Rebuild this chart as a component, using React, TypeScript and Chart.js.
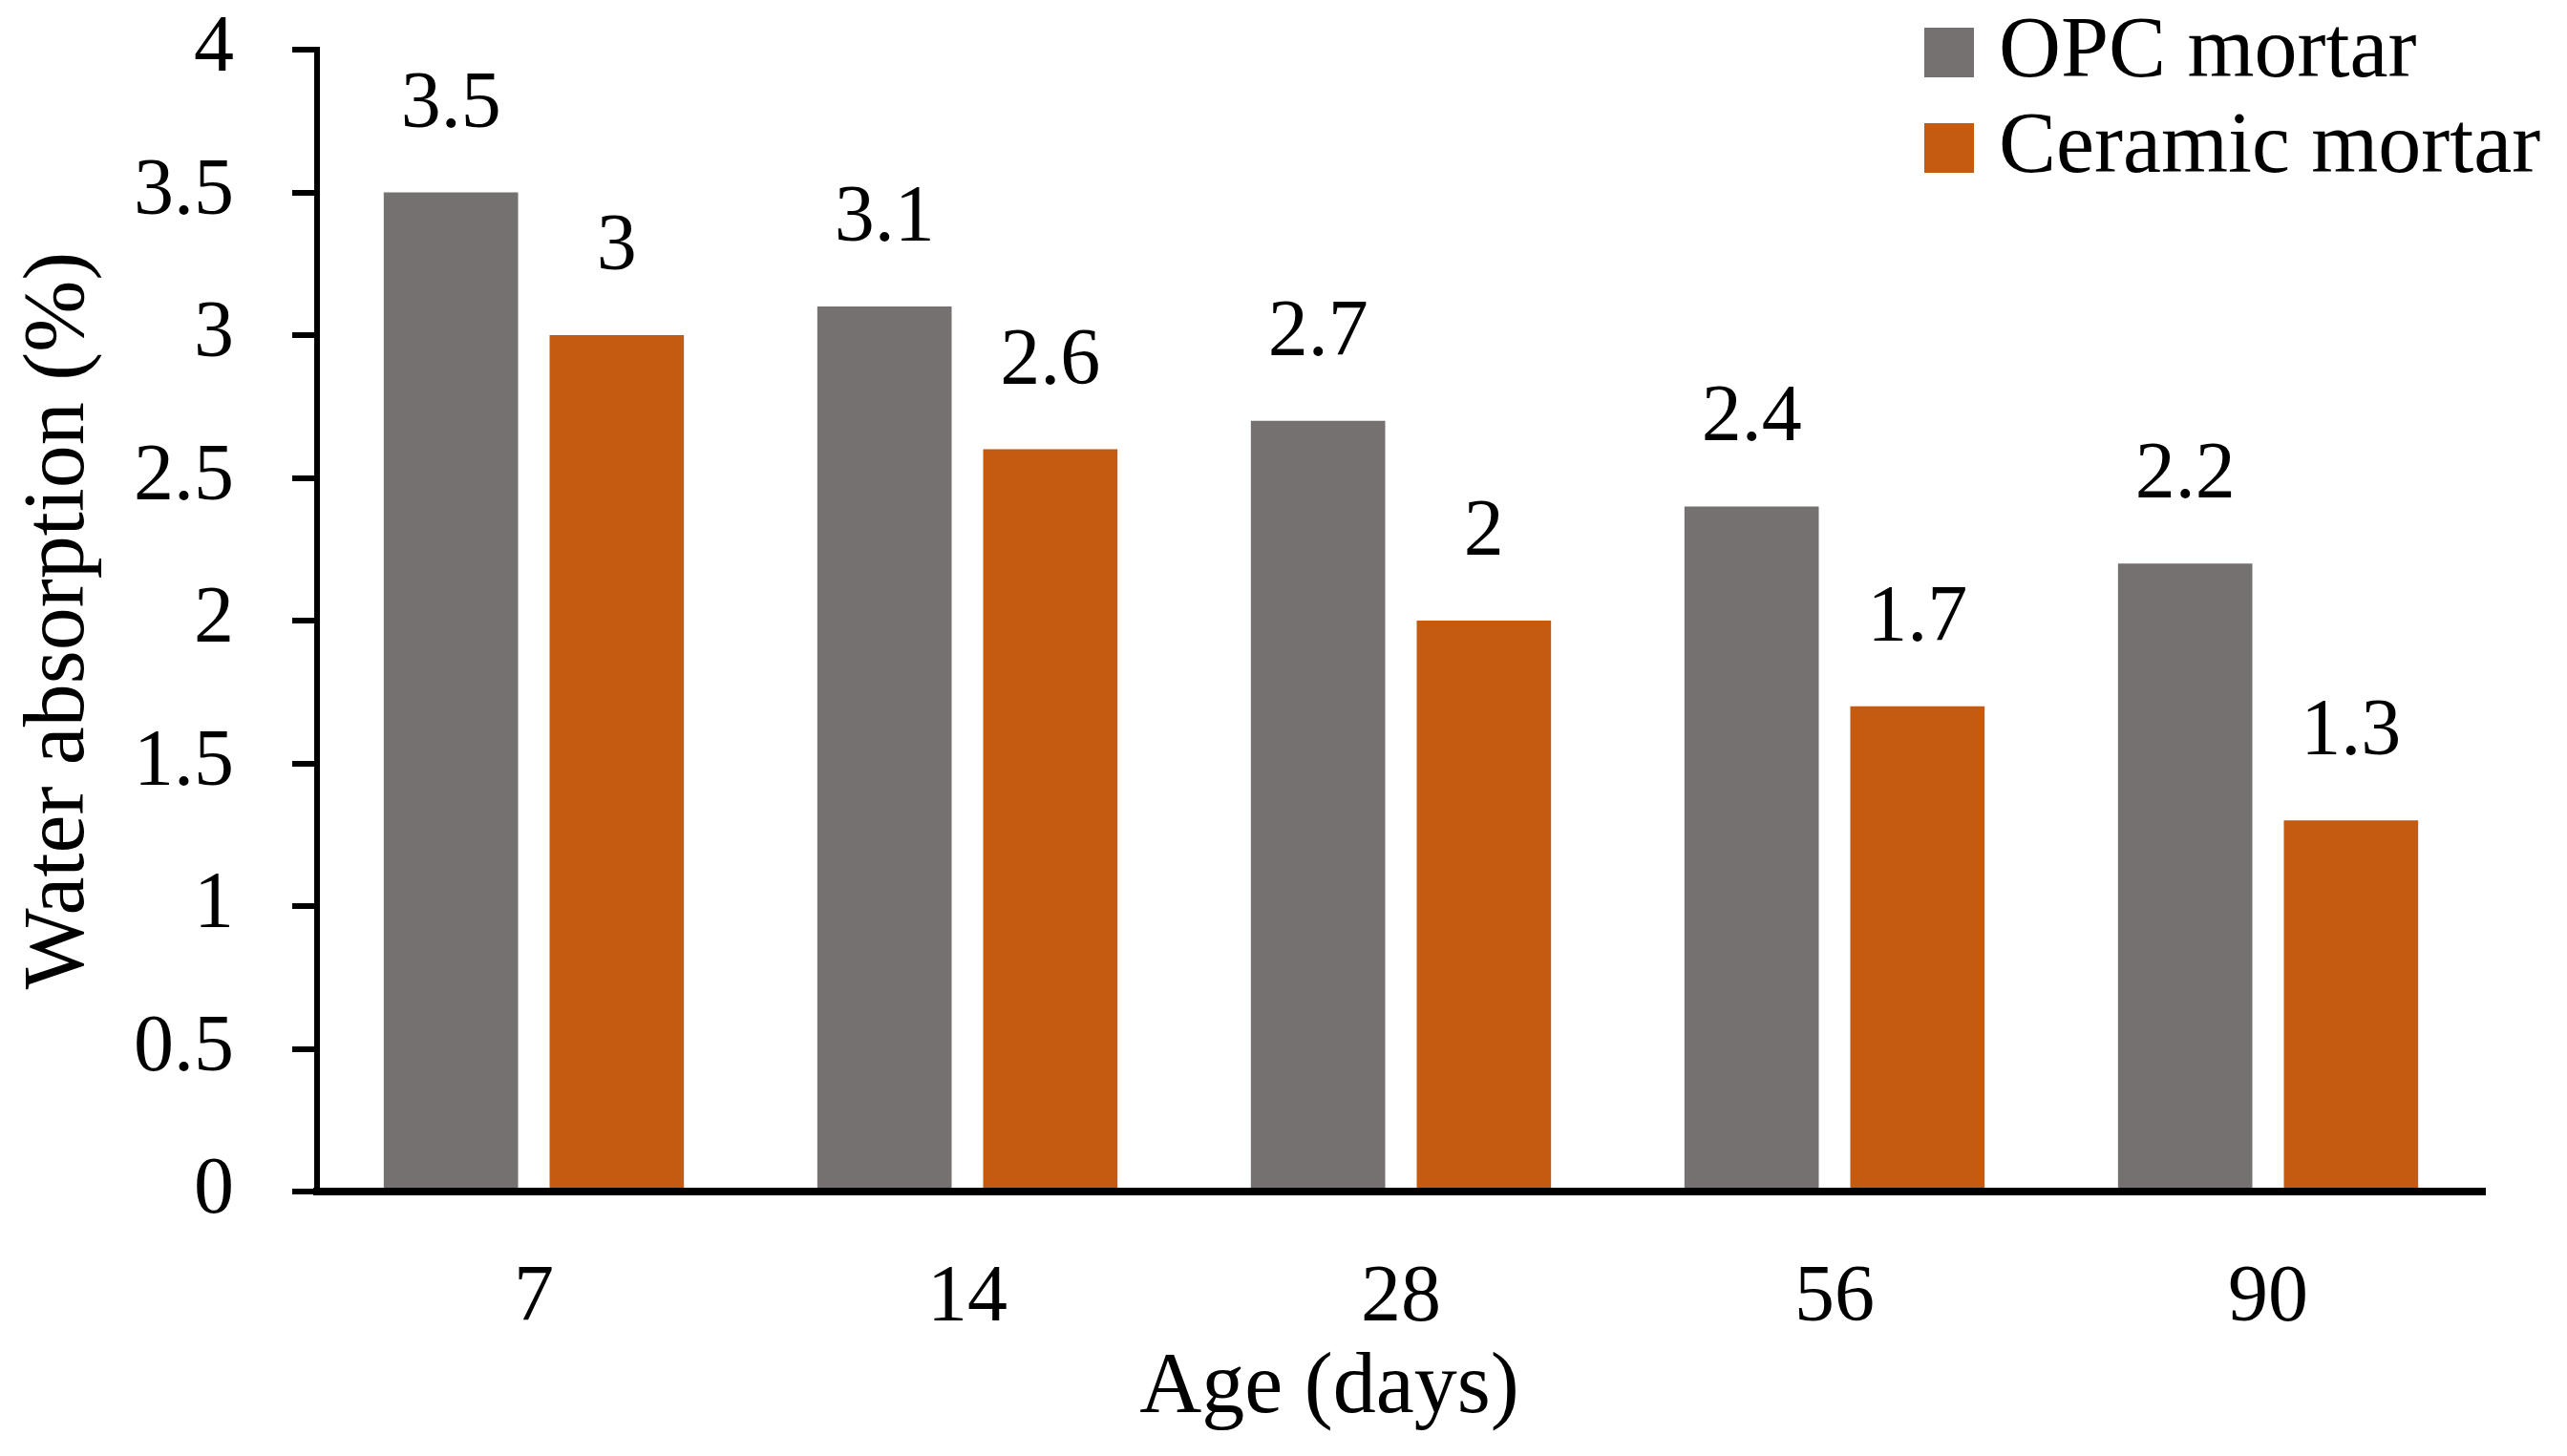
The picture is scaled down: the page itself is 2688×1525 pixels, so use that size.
import React, { useEffect, useRef } from 'react';
import { Chart, registerables } from 'chart.js';

Chart.register(...registerables);

const categories = ['7', '14', '28', '56', '90'];
const seriesNames = ['OPC mortar', 'Ceramic mortar'];
const opcValues = [3.5, 3.1, 2.7, 2.4, 2.2];
const ceramicValues = [3, 2.6, 2, 1.7, 1.3];
const seriesColors = ['#767171', '#C55A11'];
const yTickValues = [0, 0.5, 1, 1.5, 2, 2.5, 3, 3.5, 4];
const yTickLabels = ['0', '0.5', '1', '1.5', '2', '2.5', '3', '3.5', '4'];
const xTitle = 'Age (days)';
const yTitle = 'Water absorption (%)';

const FONT = "'Liberation Serif', 'Times New Roman', serif";
const NUM_SIZE = 84;
const WORD_SIZE = 90;

const dataLabelPlugin = {
  id: 'barValueLabels',
  afterDatasetsDraw(chart: any) {
    const ctx = chart.ctx;
    ctx.save();
    ctx.font = `${NUM_SIZE}px ${FONT}`;
    ctx.fillStyle = '#000';
    ctx.textAlign = 'center';
    ctx.textBaseline = 'middle';
    chart.data.datasets.forEach((ds: any, i: number) => {
      const meta = chart.getDatasetMeta(i);
      meta.data.forEach((el: any, j: number) => {
        ctx.fillText(String(ds.data[j]), el.x, el.y - 91);
      });
    });
    ctx.restore();
  },
};

const legendAndTitlePlugin = {
  id: 'legendAndTitle',
  afterDraw(chart: any) {
    const ctx = chart.ctx;
    const area = chart.chartArea;
    ctx.save();
    ctx.font = `${WORD_SIZE}px ${FONT}`;
    ctx.fillStyle = '#000';
    // x-axis title
    ctx.textAlign = 'center';
    ctx.textBaseline = 'middle';
    const cx = (area.left + area.right) / 2 - 75;
    ctx.fillText(xTitle, cx, area.bottom + 207);
    // legend
    const boxX = area.right - 587;
    const boxSize = 52;
    const rowTops = [area.top - 23, area.top + 77];
    chart.data.datasets.forEach((ds: any, i: number) => {
      const top = rowTops[i];
      ctx.fillStyle = ds.backgroundColor;
      ctx.fillRect(boxX, top, boxSize, boxSize);
      ctx.fillStyle = '#000';
      ctx.textAlign = 'left';
      ctx.textBaseline = 'alphabetic';
      ctx.fillText(ds.label, boxX + 78, top + 51);
    });
    ctx.restore();
  },
};

export default function App() {
  const canvasRef = useRef<HTMLCanvasElement | null>(null);

  useEffect(() => {
    if (!canvasRef.current) return;
    const chart = new Chart(canvasRef.current, {
      type: 'bar',
      data: {
        labels: categories,
        datasets: [
          {
            label: seriesNames[0],
            data: opcValues,
            backgroundColor: seriesColors[0],
            borderWidth: 0,
            categoryPercentage: 0.765,
            barPercentage: 0.81,
          },
          {
            label: seriesNames[1],
            data: ceramicValues,
            backgroundColor: seriesColors[1],
            borderWidth: 0,
            categoryPercentage: 0.765,
            barPercentage: 0.81,
          },
        ],
      },
      options: {
        responsive: true,
        maintainAspectRatio: false,
        animation: false,
        layout: { padding: { top: 44, right: 78, bottom: 0, left: 0 } },
        plugins: {
          legend: { display: false },
          tooltip: { enabled: false },
        },
        scales: {
          x: {
            type: 'category',
            position: 'bottom',
            grid: { display: true, drawOnChartArea: false, drawTicks: false },
            border: { display: true, color: '#000', width: 8, z: 1 },
            ticks: {
              color: '#000',
              font: { family: FONT, size: NUM_SIZE },
              padding: 63,
              maxRotation: 0,
              autoSkip: false,
            },
            afterFit: (scale: any) => {
              scale.height = 269;
              scale.paddingLeft = 0;
              scale.paddingRight = 0;
            },
          },
          y: {
            type: 'linear',
            position: 'left',
            min: 0,
            max: 4,
            grid: {
              display: true,
              drawOnChartArea: false,
              drawTicks: true,
              tickLength: 26,
              tickWidth: 6,
              tickColor: '#000',
              lineWidth: 6,
              color: '#000',
            },
            border: { display: true, color: '#000', width: 6, z: 1 },
            afterBuildTicks: (scale: any) => {
              scale.ticks = yTickValues.map((v) => ({ value: v }));
            },
            ticks: {
              color: '#000',
              font: { family: FONT, size: NUM_SIZE },
              padding: 61,
              callback: (_v: any, i: number) => yTickLabels[i],
            },
            title: {
              display: true,
              text: yTitle,
              color: '#000',
              font: { family: FONT, size: WORD_SIZE, lineHeight: 1.2 },
              padding: { top: 1, bottom: 0 },
            },
            afterFit: (scale: any) => {
              scale.width = 324;
              scale.paddingTop = 0;
              scale.paddingBottom = 0;
            },
          },
        },
      },
      plugins: [dataLabelPlugin, legendAndTitlePlugin],
    } as any);
    return () => chart.destroy();
  }, []);

  return (
    <div style={{ position: 'relative', width: '2672px', height: '1509px' }}>
      <canvas ref={canvasRef} />
    </div>
  );
}
